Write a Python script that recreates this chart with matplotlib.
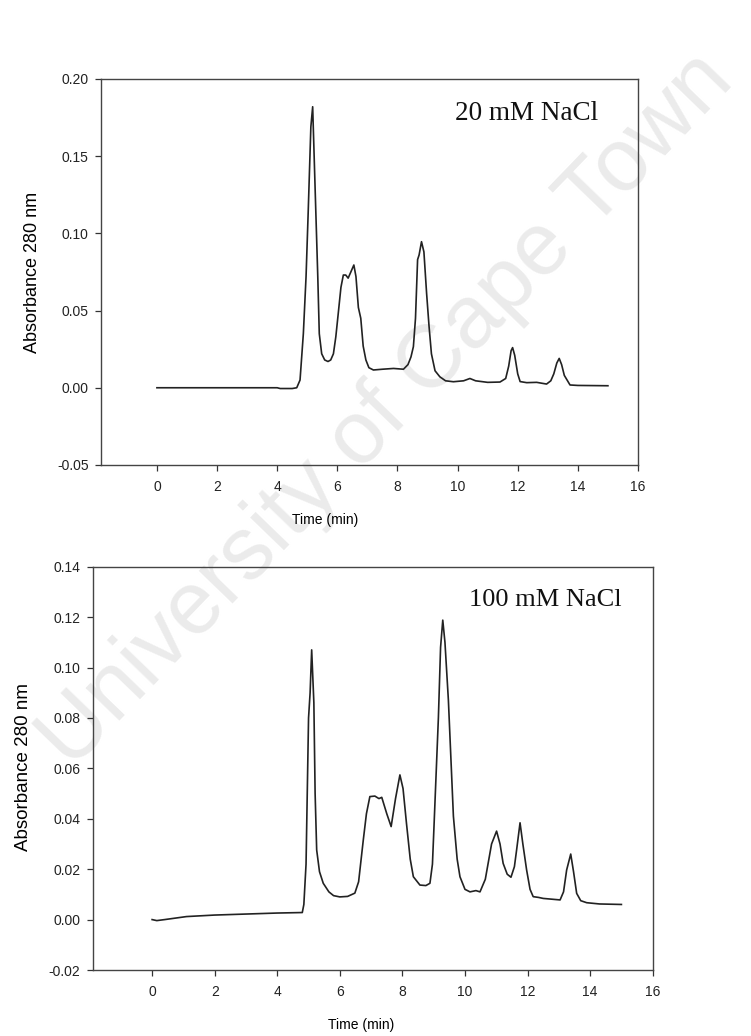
import matplotlib
matplotlib.use('Agg')
from matplotlib import pyplot as plt

# 20 mM NaCl run
time20 = [0, 1, 2, 3, 4, 4.1, 4.5, 4.65, 4.76, 4.87, 4.96, 5.03, 5.12, 5.18, 5.26, 5.35,
          5.40, 5.48, 5.58, 5.69, 5.78, 5.87, 5.95, 6.03, 6.12, 6.2, 6.28, 6.36, 6.45, 6.55,
          6.62, 6.7, 6.78, 6.86, 6.95, 7.05, 7.2, 7.5, 7.87, 8.2, 8.35, 8.45, 8.53, 8.6,
          8.67, 8.72, 8.8, 8.88, 8.97, 9.05, 9.13, 9.25, 9.41, 9.6, 9.86, 10.2, 10.41, 10.6,
          11.0, 11.41, 11.6, 11.7, 11.78, 11.83, 11.9, 12.0, 12.08, 12.3, 12.63, 12.96, 13.1,
          13.2, 13.3, 13.38, 13.46, 13.55, 13.74, 14.0, 14.5, 15.0]
abs20 = [0, 0, 0, 0, 0, -0.0005, -0.0005, 0.0, 0.005, 0.035, 0.072, 0.113, 0.169, 0.182,
         0.130, 0.072, 0.035, 0.022, 0.018, 0.017, 0.018, 0.022, 0.033, 0.048, 0.065, 0.073,
         0.073, 0.071, 0.075, 0.0795, 0.072, 0.052, 0.045, 0.027, 0.018, 0.013, 0.0115, 0.012,
         0.0125, 0.012, 0.015, 0.020, 0.0266, 0.045, 0.083, 0.086, 0.0946, 0.088, 0.061, 0.040,
         0.022, 0.011, 0.0071, 0.0045, 0.0039, 0.0045, 0.006, 0.0045, 0.0035, 0.0037, 0.006,
         0.014, 0.024, 0.026, 0.021, 0.009, 0.004, 0.0033, 0.0035, 0.0024, 0.0045, 0.009,
         0.016, 0.019, 0.015, 0.008, 0.0018, 0.0015, 0.0014, 0.0013]

# 100 mM NaCl run
time100 = [0, 0.15, 0.4, 1.1, 2.0, 3.0, 4.0, 4.8, 4.85, 4.92, 5.0, 5.05, 5.1, 5.14, 5.17,
           5.21, 5.26, 5.35, 5.47, 5.65, 5.8, 6.0, 6.25, 6.48, 6.6, 6.75, 6.85, 6.96, 7.12,
           7.25, 7.34, 7.5, 7.64, 7.78, 7.92, 8.02, 8.13, 8.25, 8.35, 8.56, 8.75, 8.88, 8.96,
           9.01, 9.15, 9.22, 9.29, 9.36, 9.47, 9.63, 9.75, 9.84, 10.0, 10.16, 10.35, 10.48,
           10.65, 10.85, 11.01, 11.12, 11.22, 11.35, 11.47, 11.58, 11.65, 11.76, 11.85, 11.97,
           12.08, 12.18, 12.35, 12.5, 13.04, 13.15, 13.25, 13.38, 13.47, 13.57, 13.7, 13.89,
           14.3, 15.0]
abs100 = [0, -0.0004, 0.0, 0.0012, 0.0018, 0.0022, 0.0026, 0.0028, 0.006, 0.022, 0.080,
          0.090, 0.107, 0.095, 0.086, 0.050, 0.0276, 0.019, 0.0144, 0.011, 0.0095, 0.009,
          0.0092, 0.0105, 0.015, 0.0316, 0.042, 0.0488, 0.049, 0.048, 0.0485, 0.042, 0.0369,
          0.048, 0.0574, 0.052, 0.0382, 0.024, 0.017, 0.0137, 0.0135, 0.0144, 0.022, 0.037,
          0.080, 0.108, 0.1188, 0.110, 0.087, 0.041, 0.024, 0.017, 0.012, 0.011, 0.0115, 0.011,
          0.016, 0.030, 0.0351, 0.030, 0.0223, 0.018, 0.0168, 0.021, 0.0276, 0.0384, 0.030,
          0.0197, 0.012, 0.0091, 0.0088, 0.0084, 0.0078, 0.011, 0.0197, 0.026, 0.019, 0.0104,
          0.0075, 0.0067, 0.0062, 0.006]

xticks = [0, 2, 4, 6, 8, 10, 12, 14, 16]
yticks20 = [-0.05, 0.00, 0.05, 0.10, 0.15, 0.20]
yticks100 = [-0.02, 0.00, 0.02, 0.04, 0.06, 0.08, 0.10, 0.12, 0.14]

plt.rcParams['font.family'] = ['Liberation Sans', 'DejaVu Sans']

fig = plt.figure(figsize=(7.51, 10.36), dpi=100)

# scanned watermark
fig.text(0.515, 0.603, 'University of Cape Town', fontsize=64, color='#ebebeb',
         rotation=46, ha='center', va='center', zorder=-1)


def style_axes(ax, xmin, ylim, yticks):
    ax.set_facecolor('none')
    ax.set_xlim(xmin, 16)
    ax.set_ylim(*ylim)
    ax.set_xticks(xticks)
    ax.set_yticks(yticks)
    ax.set_yticklabels(['%.2f' % v for v in yticks])
    ax.tick_params(direction='out', length=4, width=0.9, color='#333333',
                   labelsize=10, labelcolor='#222222')
    ax.tick_params(axis='x', pad=7)
    ax.tick_params(axis='y', pad=5)
    for s in ax.spines.values():
        s.set_color('#444444')
        s.set_linewidth(1.0)


top_axes = fig.add_axes([0.1345, 0.5512, 0.715, 0.3726])
top_axes.plot(time20, abs20, color='#222222', lw=1.2)
style_axes(top_axes, -1.86, (-0.05, 0.20), yticks20)
top_axes.set_xlabel('Time (min)', fontsize=10)
top_axes.set_ylabel('Absorbance 280 nm', fontsize=13)
top_axes.xaxis.set_label_coords(0.417, -0.125)
top_axes.yaxis.set_label_coords(-0.112, 0.5)
top_axes.text(0.926, 0.91, '20 mM NaCl', transform=top_axes.transAxes, ha='right',
              va='center', fontsize=19.5, family=['Liberation Serif', 'DejaVu Serif'],
              color='#111111')

bot_axes = fig.add_axes([0.1234, 0.0637, 0.7457, 0.3893])
bot_axes.plot(time100, abs100, color='#222222', lw=1.2)
style_axes(bot_axes, -1.9, (-0.02, 0.14), yticks100)
bot_axes.set_xlabel('Time (min)', fontsize=10)
bot_axes.set_ylabel('Absorbance 280 nm', fontsize=13.5)
bot_axes.xaxis.set_label_coords(0.479, -0.119)
bot_axes.yaxis.set_label_coords(-0.108, 0.503)
bot_axes.text(0.945, 0.917, '100 mM NaCl', transform=bot_axes.transAxes, ha='right',
              va='center', fontsize=19, family=['Liberation Serif', 'DejaVu Serif'],
              color='#111111')

plt.savefig('out.png', dpi=100)
